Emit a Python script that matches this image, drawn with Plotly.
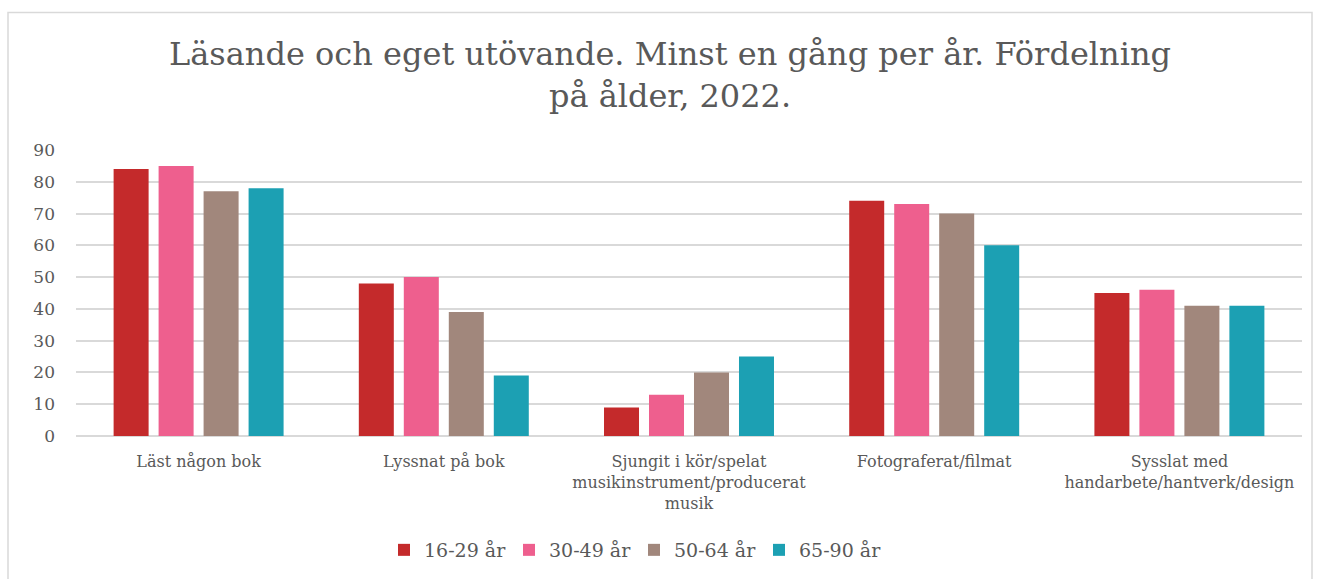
import plotly.graph_objects as go

categories = ["Läst någon bok", "Lyssnat på bok",
              "Sjungit i kör/spelat<br>musikinstrument/producerat<br>musik",
              "Fotograferat/filmat", "Sysslat med<br>handarbete/hantverk/design"]
series_names = ["16-29 år", "30-49 år", "50-64 år", "65-90 år"]
v_16_29 = [84, 48, 9, 74, 45]
v_30_49 = [85, 50, 13, 73, 46]
v_50_64 = [77, 39, 20, 70, 41]
v_65_90 = [78, 19, 25, 60, 41]
colors = ["#C42A2B", "#EE5F8E", "#A1877C", "#1CA0B3"]

W, H = 1319, 579
ml, mr, mt, mb = 76, 17, 150, 142
pw, ph = W - ml - mr, H - mt - mb

fig = go.Figure()
for name, vals, c in zip(series_names, [v_16_29, v_30_49, v_50_64, v_65_90], colors):
    fig.add_trace(go.Bar(name=name, x=categories, y=vals, marker_color=c,
                         marker_line_width=0))

font_fam = "DejaVu Serif"
fig.update_layout(
    width=W, height=H,
    margin=dict(l=ml, r=mr, t=mt, b=mb),
    paper_bgcolor="white", plot_bgcolor="white",
    barmode="group", bargap=0.266, bargroupgap=0.222,
    title=dict(text="Läsande och eget utövande. Minst en gång per år. Fördelning<br>på ålder, 2022.",
               x=670 / W, xanchor="center", y=1 - 65 / H, yanchor="top", yref="container",
               font=dict(family=font_fam, size=32, color="#595959")),
    font=dict(family=font_fam, color="#595959"),
    xaxis=dict(showgrid=False, showline=False, ticks="", tickfont=dict(size=16, color="#595959"),
               ticklabelstandoff=14),
    yaxis=dict(range=[0, 90], dtick=10, showgrid=True, gridcolor="#D9D9D9", gridwidth=2,
               zeroline=True, zerolinecolor="#D9D9D9", zerolinewidth=2,
               tickfont=dict(size=17, color="#595959"), ticks="", ticklabelstandoff=20),
    legend=dict(orientation="h", x=(634 - ml) / pw, xanchor="center",
                y=-(550 - (H - mb)) / ph, yanchor="middle",
                font=dict(size=19, color="#595959"), entrywidth=80, entrywidthmode="pixels"),
    showlegend=True,
)
fig.add_shape(type="rect", xref="paper", yref="paper",
              x0=(8 - ml) / pw, x1=(1312 - ml) / pw,
              y0=-(700 - (H - mb)) / ph, y1=((H - mb) - 12) / ph,
              line=dict(color="#D9D9D9", width=1.5), fillcolor="rgba(0,0,0,0)", layer="below")
fig.write_html("out.html", config={"displayModeBar": False},
               post_script="document.body.style.margin='0';document.body.style.overflow='hidden';")
